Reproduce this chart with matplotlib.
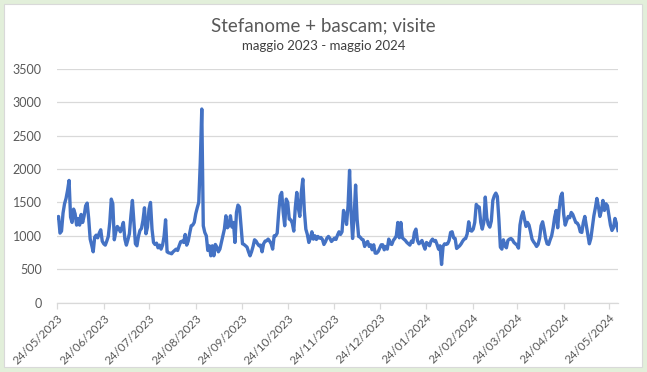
"""Visite giornaliere Stefanome + bascam, maggio 2023 - maggio 2024."""

import matplotlib
matplotlib.use('Agg')
import matplotlib.pyplot as plt
import matplotlib.dates as mdates
from matplotlib.patches import Rectangle
import pandas as pd

START = "2023-05-24"

# daily visits, one list per calendar month
mag_2023 = [1270, 1290, 1040, 1070, 1340, 1480, 1560, 1680]
giu_2023 = [1830, 1280, 1200, 1400, 1330, 1160, 1260, 1160, 1320, 1200,
            1300, 1450, 1490, 1260, 950, 860, 760, 980, 1010, 970,
            1040, 1090, 920, 880, 860, 920, 990, 1200, 1550, 1480]
lug_2023 = [940, 1060, 1140, 1110, 1060, 1120, 1200, 950, 860, 940,
            1030, 1300, 1530, 1200, 880, 850, 990, 1080, 1110, 1230,
            1420, 1030, 1130, 1400, 1500, 1100, 900, 870, 890, 820, 860]
ago_2023 = [800, 860, 990, 1240, 760, 745, 740, 730, 760, 780,
            800, 780, 850, 910, 920, 900, 1020, 860, 920, 1040,
            1150, 1160, 1200, 1330, 1420, 1500, 2100, 2900, 1150, 1050, 1000]
set_2023 = [780, 850, 700, 850, 700, 870, 830, 760, 800, 900,
            1000, 1100, 1300, 1120, 1150, 1300, 1130, 1200, 900, 1350,
            1460, 1430, 1150, 880, 870, 850, 830, 760, 700, 760]
ott_2023 = [840, 940, 920, 880, 850, 860, 760, 880, 920, 925,
            950, 920, 880, 800, 1000, 1000, 1040, 1350, 1600, 1650,
            1350, 1150, 1550, 1500, 1250, 1240, 1190, 1070, 1420, 1650, 1420]
nov_2023 = [1290, 1650, 1850, 1380, 1100, 1020, 900, 960, 1060, 950,
            1000, 945, 990, 965, 975, 945, 870, 910, 965, 990,
            960, 915, 940, 965, 945, 1010, 1060, 1020, 1060, 1380]
dic_2023 = [1300, 1170, 1450, 1980, 1350, 960, 1280, 1760, 1250, 990,
            980, 950, 940, 840, 890, 915, 840, 865, 790, 865,
            740, 740, 765, 815, 865, 865, 790, 840, 800, 950, 880]
gen_2024 = [870, 930, 960, 1000, 1200, 970, 1200, 970, 950, 930,
            900, 880, 860, 920, 900, 1050, 1100, 930, 880, 900,
            930, 860, 800, 900, 880, 850, 920, 950, 920, 930, 870]
feb_2024 = [800, 850, 570, 840, 880, 870, 880, 930, 1050, 1060,
            970, 960, 810, 830, 850, 880, 920, 950, 960, 1030,
            1210, 1080, 1070, 1100, 1200, 1470, 1440, 1430, 1200]
mar_2024 = [1100, 1200, 1580, 1270, 1170, 1130, 1220, 1530, 1600, 1640,
            1590, 1250, 830, 800, 940, 850, 820, 930, 950, 960,
            940, 900, 880, 860, 815, 1160, 1290, 1360, 1250, 1140, 1200]
apr_2024 = [1160, 1060, 950, 910, 880, 840, 870, 960, 1150, 1210,
            1100, 960, 880, 870, 940, 1000, 1120, 1280, 1380, 1120,
            1400, 1590, 1640, 1320, 1160, 1230, 1290, 1270, 1350, 1320]
mag_2024 = [1260, 1200, 1190, 1150, 1060, 1050, 1200, 1290, 1150, 1010,
            880, 960, 1130, 1300, 1420, 1560, 1440, 1290, 1380, 1530,
            1380, 1480, 1450, 1300, 1160, 1080, 1120, 1260, 1180, 1080]

MONTHS = [mag_2023, giu_2023, lug_2023, ago_2023, set_2023, ott_2023, nov_2023,
          dic_2023, gen_2024, feb_2024, mar_2024, apr_2024, mag_2024]

# ticks on the 24th of every month
TICK_DATES = pd.date_range("2023-05-01", "2024-05-01", freq="MS") + pd.Timedelta(days=23)
Y_TICKS = list(range(0, 3501, 500))

TITLE = "Stefanome + bascam; visite"
SUBTITLE = "maggio 2023 - maggio 2024"

LINE_COLOR = "#4472C4"
GRID_COLOR = "#D9D9D9"
TEXT_COLOR = "#595959"

plt.rcParams['font.family'] = ['Lato', 'DejaVu Sans']

visits = [v for month in MONTHS for v in month]
dates = pd.date_range(START, periods=len(visits), freq="D")

fig = plt.figure(figsize=(6.47, 3.72), dpi=100)
fig.patch.set_facecolor("#E2EFDA")
fig.patches.append(Rectangle((4 / 647, 5 / 372), 638 / 647, 363 / 372,
                             transform=fig.transFigure, facecolor="white",
                             edgecolor="#D9D9D9", linewidth=0.8, zorder=-10))

ax = fig.add_axes([57 / 647, 69.5 / 372, 561 / 647, 233.5 / 372])
ax.set_facecolor("none")
ax.plot(dates, visits, color=LINE_COLOR, linewidth=2.4, solid_joinstyle="round")

ax.set_ylim(0, 3500)
ax.set_yticks(Y_TICKS)
ax.set_xlim(dates[0], dates[-1])
ax.set_xticks(TICK_DATES)
ax.xaxis.set_major_formatter(mdates.DateFormatter("%d/%m/%Y"))

ax.grid(axis="y", color=GRID_COLOR, linewidth=0.9)
ax.set_axisbelow(True)
for side in ("left", "right", "top"):
    ax.spines[side].set_visible(False)
ax.spines["bottom"].set_color(GRID_COLOR)
ax.spines["bottom"].set_linewidth(0.9)

ax.tick_params(axis="y", length=0, pad=11, labelsize=9, labelcolor=TEXT_COLOR)
ax.tick_params(axis="x", length=4, color=GRID_COLOR, width=0.9, pad=3,
               labelsize=8.5, labelcolor=TEXT_COLOR)
for lbl in ax.get_xticklabels():
    lbl.set_rotation(45)
    lbl.set_ha("right")
    lbl.set_va("top")
    lbl.set_rotation_mode("anchor")

fig.text(0.5, 1 - 26 / 372, TITLE, ha="center", va="center",
         fontsize=13.5, color=TEXT_COLOR)
fig.text(0.5, 1 - 46 / 372, SUBTITLE, ha="center", va="center",
         fontsize=9.5, color="#404040")

fig.savefig("out.png", dpi=100, facecolor=fig.get_facecolor())
plt.close(fig)
